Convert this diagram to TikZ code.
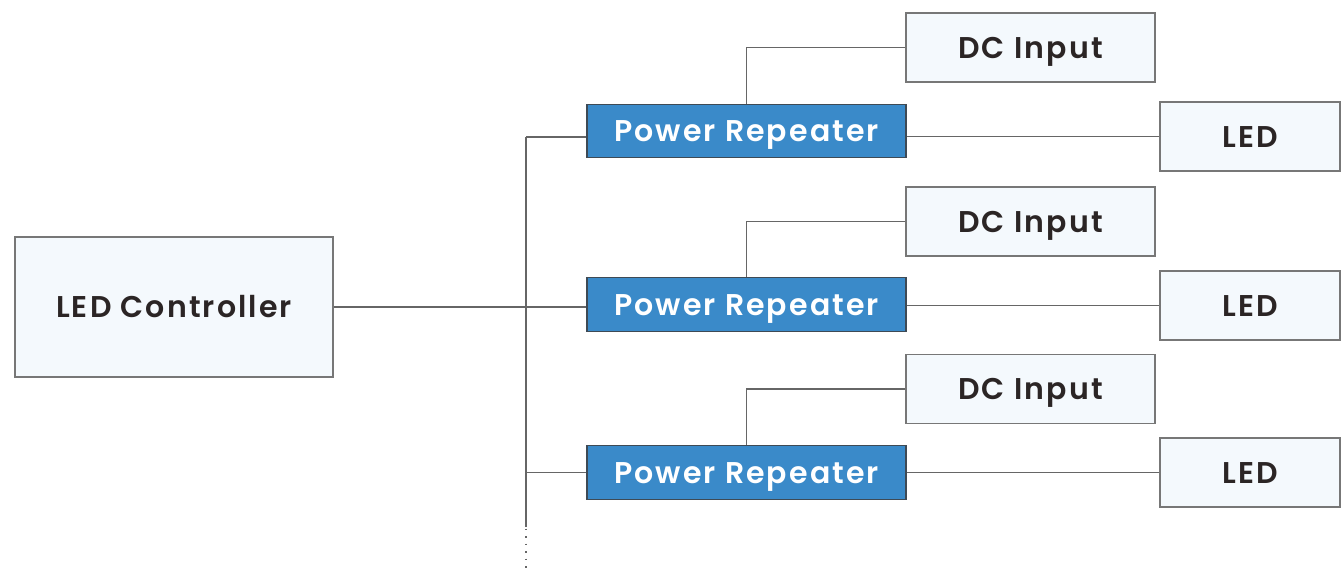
\documentclass[tikz,border=0pt]{standalone}
\usepackage{fontspec}
\setmainfont{Poppins}[LetterSpace=7,BoldFont={Poppins SemiBold}]
\definecolor{boxfill}{HTML}{F4F9FD}
\definecolor{boxline}{HTML}{777777}
\definecolor{prfill}{HTML}{3A8AC9}
\definecolor{prline}{HTML}{3E4A55}
\definecolor{txt}{HTML}{2B2525}
\definecolor{wire}{HTML}{666666}
\begin{document}
\begin{tikzpicture}[x=1pt,y=-1pt,
  lightbox/.style={draw=boxline,fill=boxfill,line width=1.2pt,inner sep=0pt,text=txt,font=\fontsize{30}{33}\selectfont\bfseries,text height=21pt,text depth=0pt},
  prbox/.style={draw=prline,fill=prfill,line width=1.2pt,inner sep=0pt,text=white,font=\fontsize{30}{33}\selectfont\bfseries,text height=21pt,text depth=0pt,minimum width=319pt,minimum height=53.5pt},
  dcbox/.style={lightbox,minimum width=249pt,minimum height=69pt},
  ledbox/.style={lightbox,minimum width=180pt,minimum height=69pt},
  wireline/.style={draw=wire,line width=1.1pt}]
\useasboundingbox (0,0) rectangle (1341,574);
\node[lightbox,minimum width=318pt,minimum height=140pt] (ctrl) at (174,307) {LED Controller};
\node[prbox] (pr1) at (746.5,131) {Power Repeater};
\node[prbox] (pr2) at (746.5,304.5) {Power Repeater};
\node[prbox] (pr3) at (746.5,472.5) {Power Repeater};
\node[dcbox] (dc1) at (1030.5,47.5) {DC Input};
\node[dcbox] (dc2) at (1030.5,221.5) {DC Input};
\node[dcbox] (dc3) at (1030.5,389) {DC Input};
\node[ledbox] (led1) at (1250,136.5) {LED};
\node[ledbox] (led2) at (1250,305.5) {LED};
\node[ledbox] (led3) at (1250,472.5) {LED};
\coordinate (b1) at (526,137);
\coordinate (b2) at (526,307);
\coordinate (b3) at (526,472.5);
\coordinate (bend) at (526,527);
\coordinate (bdot) at (526,570);
\draw[wireline] (b1) -- (bend);
\draw[wire,line width=1.5pt,dash pattern=on 1.5pt off 6pt] ([yshift=6pt]bend) -- (bdot);
\draw[wireline] (b1) -- (b1 -| pr1.west);
\draw[wireline] (ctrl.east) -- (ctrl.east -| pr2.west);
\draw[wireline] (b3) -- (b3 -| pr3.west);
\draw[wireline] (pr1.north) |- (dc1.west);
\draw[wireline] (pr2.north) |- (dc2.west);
\draw[wireline] (pr3.north) |- (dc3.west);
\draw[wireline] (led1.west -| pr1.east) -- (led1.west);
\draw[wireline] (led2.west -| pr2.east) -- (led2.west);
\draw[wireline] (led3.west -| pr3.east) -- (led3.west);
\end{tikzpicture}
\end{document}
